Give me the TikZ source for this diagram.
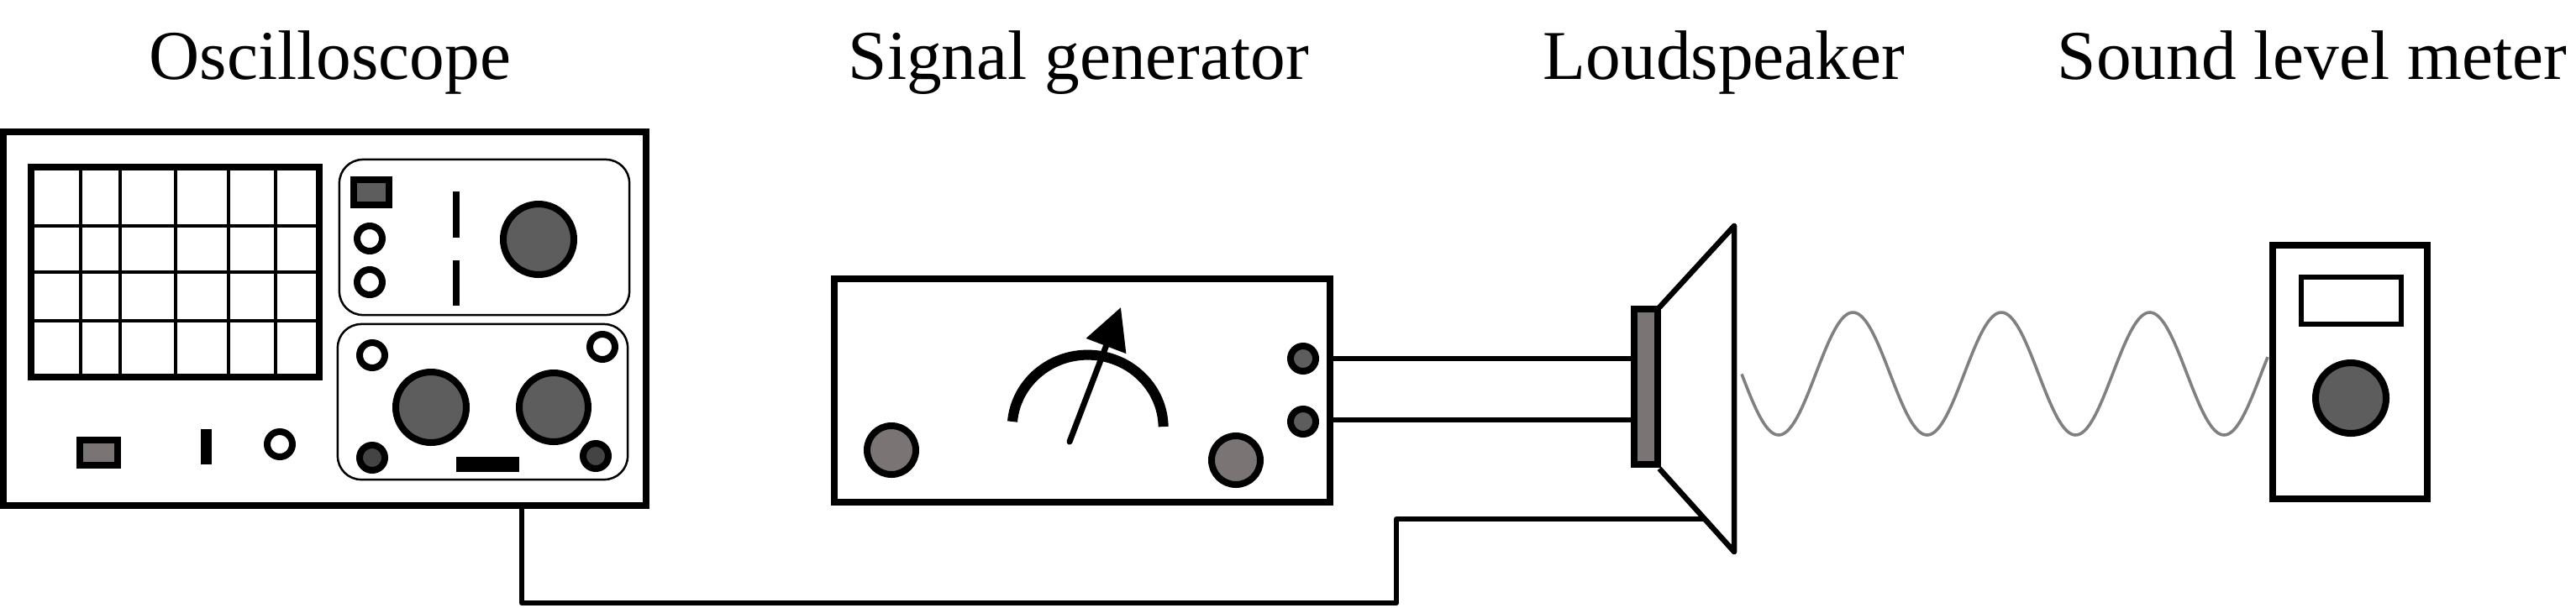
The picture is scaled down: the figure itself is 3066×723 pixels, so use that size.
\documentclass[tikz,border=0pt]{standalone}
\usepackage{fontspec}
\setmainfont{Liberation Serif}
\usetikzlibrary{arrows.meta}
\definecolor{knobdark}{HTML}{5D5D5D}
\definecolor{knobwarm}{HTML}{7A7474}
\definecolor{knobdeep}{HTML}{444444}
\tikzset{
  title/.style={anchor=base,inner sep=0pt,font=\fontsize{23.7}{28}\selectfont},
  box/.style 2 args={draw,rectangle,line width=0.08cm,inner sep=0pt,outer sep=0pt,
    minimum width=#1*0.01cm,minimum height=#2*0.01cm},
  panel/.style={draw,rectangle,rounded corners=0.28cm,line width=0.025cm,inner sep=0pt,outer sep=0pt,
    minimum width=3.45cm,minimum height=1.85cm},
  knob/.style 2 args={draw,circle,line width=0.08cm,inner sep=0pt,outer sep=0pt,
    minimum size=#1*0.01cm,fill=#2},
  slot/.style 2 args={rectangle,fill=black,inner sep=0pt,outer sep=0pt,
    minimum width=#1*0.01cm,minimum height=#2*0.01cm},
  wire/.style={line width=0.06cm},
  gridline/.style={line width=0.045cm}
}
\begin{document}
\begin{tikzpicture}[x=0.01cm,y=0.01cm]
  \useasboundingbox (0,-723) rectangle (3066,0);
  \node[title] (tscope) at (393,-94) {Oscilloscope};
  \node[title] (tgen) at (1284,-94) {Signal generator};
  \node[title] (tspeaker) at (2052,-94) {Loudspeaker};
  \node[title] (tmeter) at (2752,-94) {Sound level meter};

  \node[box={765}{445}] (scope) at (386.5,-379.5) {};
  \foreach \gx in {96,143,209,272,328}
    \draw[gridline] (\gx,-199) -- (\gx,-449);
  \foreach \gy in {269,324,382}
    \draw[gridline] (37,-\gy) -- (380,-\gy);
  \node[box={343}{250}] (screen) at (208.5,-324) {};

  \node[panel] (upper) at (576.5,-282.5) {};
  \node[panel] (lower) at (574.5,-478.5) {};
  \node[box={42}{30},fill=knobdark] (upbtn) at (442,-229) {};
  \node[knob={30}{white}] (upa) at (440,-284) {};
  \node[knob={30}{white}] (upb) at (440,-336) {};
  \node[slot={8}{55}] (upslota) at (543,-255.5) {};
  \node[slot={8}{54}] (upslotb) at (543,-337) {};
  \node[knob={84}{knobdark}] (upknob) at (641,-285) {};
  \node[knob={30}{white}] (lowa) at (443,-423) {};
  \node[knob={30}{white}] (lowb) at (717,-413) {};
  \node[knob={84}{knobdark}] (lowknoba) at (513,-485) {};
  \node[knob={82}{knobdark}] (lowknobb) at (659,-485) {};
  \node[knob={30}{knobdeep}] (lowc) at (443,-545) {};
  \node[knob={30}{knobdeep}] (lowd) at (709,-543) {};
  \node[slot={75}{18}] (lowslot) at (580.5,-553) {};
  \node[box={45}{30},fill=knobwarm] (power) at (117.5,-539) {};
  \node[slot={13}{42}] (powslot) at (245.5,-532) {};
  \node[knob={30}{white}] (powring) at (333,-529) {};

  \node[box={590}{266}] (gen) at (1288,-465) {};
  \node[knob={58}{knobwarm}] (genknoba) at (1061,-536) {};
  \node[knob={58}{knobwarm}] (genknobb) at (1471,-548) {};
  \node[knob={30}{knobdark}] (porta) at (1551,-427) {};
  \node[knob={30}{knobdark}] (portb) at (1551,-502) {};
  \draw[line width=0.12cm] (1205,-502) arc[start angle=175,end angle=1,x radius=90,y radius=87];
  \draw[line width=0.07cm,line cap=round,-{Triangle[length=14pt,width=14pt]}] (1273,-526) -- (1334,-366);

  \node[box={28}{185},fill=knobwarm] (coil) at (1959,-460.5) {};
  \draw[line width=0.065cm,line join=round] (1975,-366) -- (2064,-269) -- (2064,-657) -- (1975,-558);
  \coordinate (outa) at (1600,-427);
  \coordinate (outb) at (1600,-500);
  \draw[wire] (gen.east |- outa) -- (coil.west |- outa);
  \draw[wire] (gen.east |- outb) -- (coil.west |- outb);

  \coordinate (probe) at (621,-606);
  \coordinate (turn) at (1662,-718);
  \coordinate (conein) at (2029,-618);
  \draw[wire,line join=round] (probe) |- (turn) |- (conein);

  \draw[line width=0.036cm,color=gray] plot[domain=2073:2699,samples=140,smooth]
    (\x,{-445-73*cos((\x-2117)*2.0374)});

  \node[box={184}{302}] (meter) at (2797,-443) {};
  \node[box={119}{56},line width=0.06cm] (display) at (2798.5,-358) {};
  \node[knob={84}{knobdark}] (meterknob) at (2798,-474) {};
\end{tikzpicture}
\end{document}
